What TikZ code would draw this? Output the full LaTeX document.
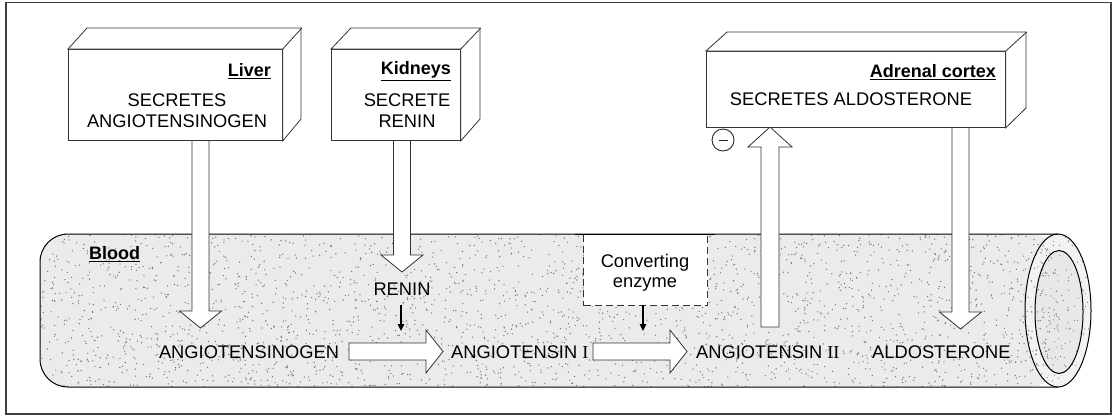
\documentclass[tikz,border=0pt]{standalone}
\usepackage{fontspec}
\setmainfont{Liberation Sans}
\newfontfamily\serifnum{Liberation Serif}
\usetikzlibrary{arrows.meta,calc}
\newcommand\downblock[2]{\draw[blk] let \p1=(#1),\p2=(#2) in (\x1-8.5pt,\y1) -- (\x1-8.5pt,\y2+17pt) -- (\x1-21pt,\y2+17pt) -- (\x2,\y2) -- (\x1+21pt,\y2+17pt) -- (\x1+8.5pt,\y2+17pt) -- (\x1+8.5pt,\y1);}
\newcommand\upblock[2]{\draw[blk] let \p1=(#1),\p2=(#2) in (\x1-9pt,\y1) -- (\x1-9pt,\y2-20pt) -- (\x1-22pt,\y2-20pt) -- (\x2,\y2) -- (\x1+22pt,\y2-20pt) -- (\x1+9pt,\y2-20pt) -- (\x1+9pt,\y1) -- cycle;}
\newcommand\rightblock[2]{\draw[blk] let \p1=(#1),\p2=(#2) in (\x1,\y1+8.5pt) -- (\x2-17pt,\y1+8.5pt) -- (\x2-17pt,\y1+21.5pt) -- (\x2,\y1) -- (\x2-17pt,\y1-21.5pt) -- (\x2-17pt,\y1-8.5pt) -- (\x1,\y1-8.5pt) -- cycle;}
\begin{document}
\begin{tikzpicture}[x=1pt,y=-1pt,
  lbl/.style={font=\fontsize{18.3}{21}\selectfont, inner sep=0pt, align=center},
  hdr/.style={font=\bfseries\fontsize{18}{21}\selectfont, inner sep=0pt},
  box/.style={draw=black!80, line width=0.8pt, fill=white, inner sep=0pt},
  edge/.style={draw=black!80, line width=0.8pt},
  blk/.style={draw=black!80, line width=0.8pt, fill=white, line join=miter},
  small/.style={line width=1.4pt, -{Triangle[length=7pt,width=6.5pt]}},
  tube/.style={draw=black, line width=1pt},
  stip/.style={fill=black!55},
]
\useasboundingbox (0,0) rectangle (1116,416);
% frame
\draw[black!75, line width=1.2pt] (6,2.5) rectangle (1111,414);

% blood vessel
\fill[black!8, rounded corners=28pt] (1058,234) -- (40,234) -- (40,387) -- (1058,387) -- cycle;
\fill[black!5] (1058,310.5) ellipse [x radius=33, y radius=76.5];
\fill[black!9] (1059,312) ellipse [x radius=24, y radius=61.5];
\pgfmathsetseed{42}
\begin{scope}
  \clip[rounded corners=28pt] (1058,234) -- (40,234) -- (40,387) -- (1058,387) -- cycle;
  \foreach \i in {1,...,2600} {\fill[stip] ({40+1018*rnd},{234+153*rnd}) circle (0.7);}
\end{scope}
\begin{scope}
  \clip (1058,310.5) ellipse [x radius=33, y radius=76.5];
  \foreach \i in {1,...,150} {\fill[stip] ({1025+66*rnd},{234+153*rnd}) circle (0.6);}
\end{scope}
\draw[tube, rounded corners=28pt] (1058,234) -- (40,234) -- (40,387) -- (1058,387);
\draw[tube] (1058,310.5) ellipse [x radius=33, y radius=76.5];
\draw[tube] (1059,312) ellipse [x radius=24, y radius=61.5];

% converting enzyme box
\node[box, dash pattern=on 7pt off 4pt, line width=1.1pt, anchor=north west, minimum width=124, minimum height=71] (conv) at (583,234) {};
\draw[tube] (575,234) -- (715,234);
\node[lbl] (convtxt) at (645,272.5) {Converting\\[-1pt]enzyme};

% arrow coordinates
\coordinate (la1) at (200.5,140); \coordinate (la2) at (200.5,328);
\coordinate (ka1) at (402,140);   \coordinate (ka2) at (402,272);
\coordinate (ua1) at (770,327);   \coordinate (ua2) at (770,127);
\coordinate (aa1) at (960.5,127); \coordinate (aa2) at (960.5,329);
\coordinate (r1a) at (349,351.5); \coordinate (r1b) at (443,351.5);
\coordinate (r2a) at (593,351.5); \coordinate (r2b) at (687,351.5);

\downblock{la1}{la2}
\downblock{ka1}{ka2}
\upblock{ua1}{ua2}
\downblock{aa1}{aa2}
\rightblock{r1a}{r1b}
\rightblock{r2a}{r2b}

% organ boxes
\node[box, anchor=north west, minimum width=214, minimum height=91] (liver) at (68,49) {};
\draw[edge, fill=white] (liver.north west) -- ++(19,-21) -- ++(214,0) -- ++(0,91) -- (liver.south east) -- (liver.north east) -- cycle;
\draw[edge] (liver.north east) -- ++(19,-21);

\node[box, anchor=north west, minimum width=129, minimum height=91] (kidney) at (331,49) {};
\draw[edge, fill=white] (kidney.north west) -- ++(20,-21) -- ++(129,0) -- ++(0,91) -- (kidney.south east) -- (kidney.north east) -- cycle;
\draw[edge] (kidney.north east) -- ++(20,-21);

\node[box, anchor=north west, minimum width=299, minimum height=76] (adrenal) at (706,51) {};
\draw[edge, fill=white] (adrenal.north west) -- ++(21,-19) -- ++(299,0) -- ++(0,76) -- (adrenal.south east) -- (adrenal.north east) -- cycle;
\draw[edge] (adrenal.north east) -- ++(21,-19);

% box texts
\node[hdr, anchor=east] (liverlbl) at (271,71) {\underline{Liver}};
\node[lbl] (livertxt) at (177,111) {SECRETES\\ANGIOTENSINOGEN};
\node[hdr, anchor=east] (kidlbl) at (451,71) {\underline{Kidneys}};
\node[lbl] (kidtxt) at (407,111) {SECRETE\\RENIN};
\node[hdr, anchor=east] (adrlbl) at (996,72) {\underline{Adrenal cortex}};
\node[lbl] (adrtxt) at (851,99) {SECRETES ALDOSTERONE};
\node[draw=black!85, line width=0.9pt, circle, minimum size=22pt, inner sep=0pt] (neg) at (723,140) {};
\draw[black!85, line width=1pt] ([xshift=-4.5pt]neg.center) -- ([xshift=4.5pt]neg.center);

% blood texts
\node[hdr, anchor=west] (blood) at (89,254) {\underline{Blood}};
\node[lbl] (renin) at (402,289) {RENIN};
\node[lbl] (agen) at (249,352) {ANGIOTENSINOGEN};
\node[lbl, anchor=west] (ang1) at (451,352) {ANGIOTENSIN {\serifnum I}};
\node[lbl, anchor=west] (ang2) at (696,352) {ANGIOTENSIN {\serifnum II}};
\node[lbl, anchor=west] (aldo) at (872,352) {ALDOSTERONE};

\coordinate (s1a) at (401,305); \coordinate (s1b) at (401,331);
\coordinate (s2a) at (643,305); \coordinate (s2b) at (643,331);
\draw[small] (s1a) -- (s1b);
\draw[small] (s2a) -- (s2b);
\end{tikzpicture}
\end{document}
